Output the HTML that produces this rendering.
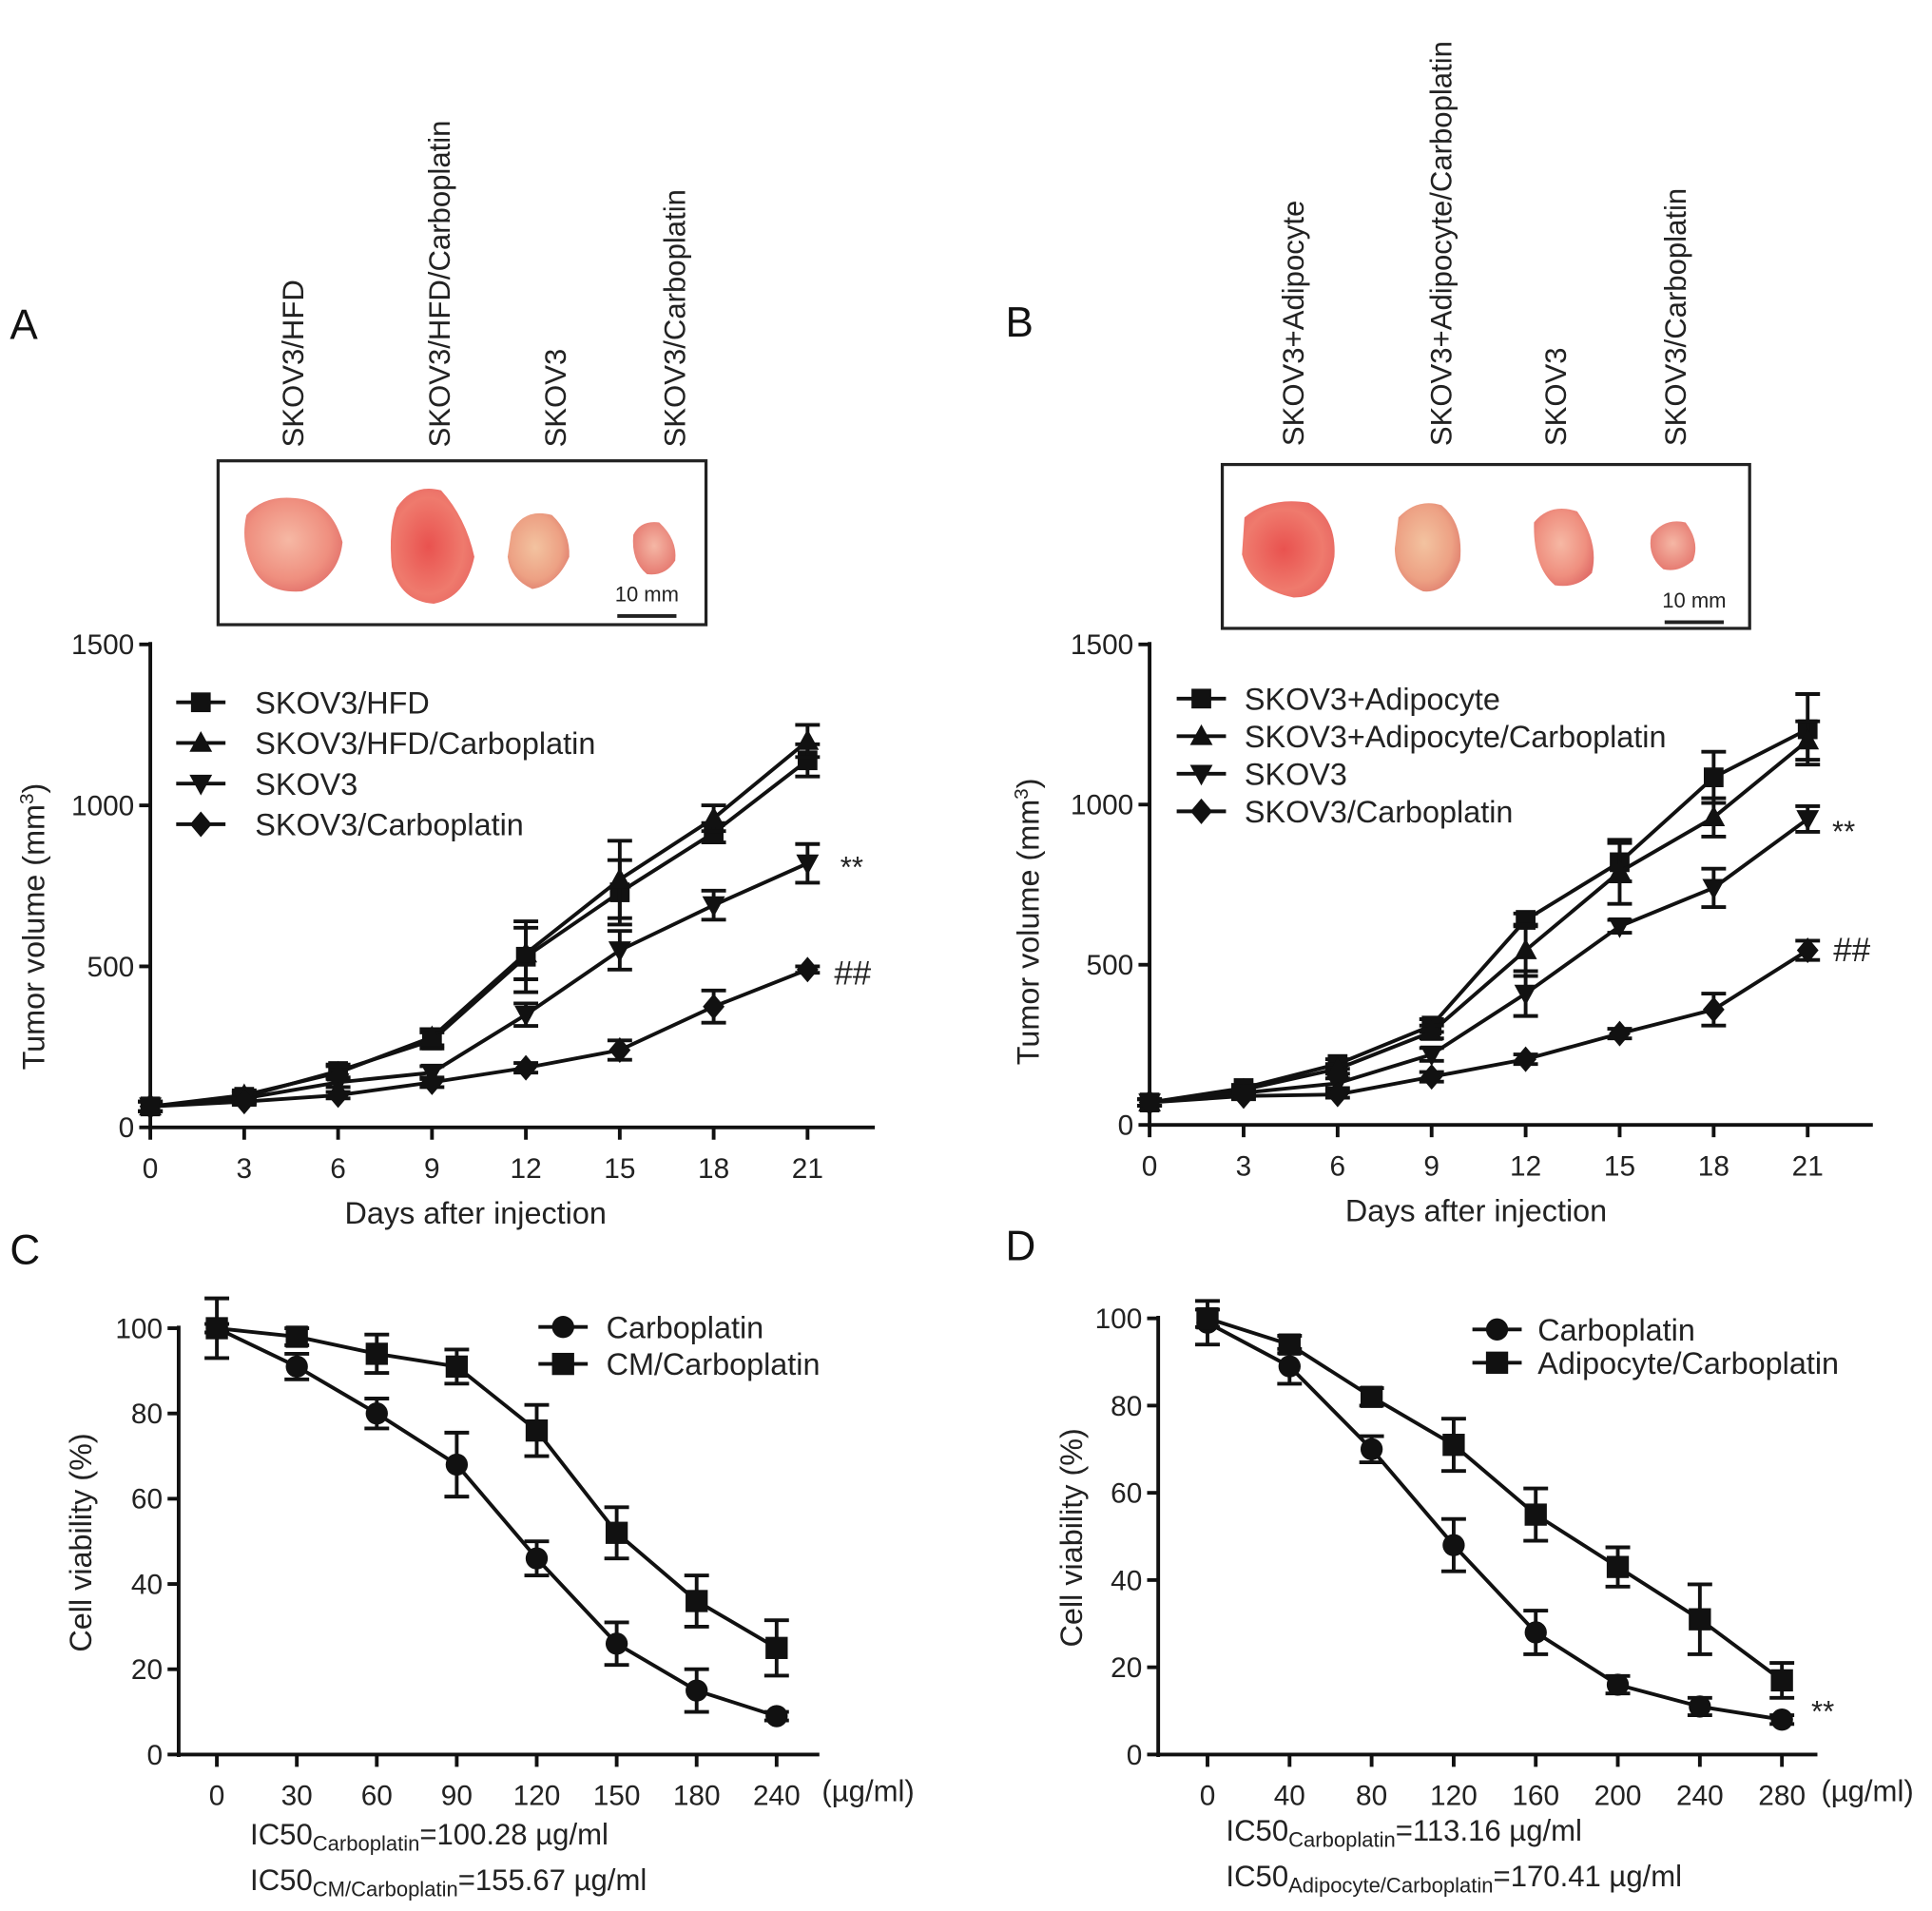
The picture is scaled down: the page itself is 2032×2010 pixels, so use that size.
<!DOCTYPE html>
<html><head><meta charset="utf-8"><style>
html,body{margin:0;padding:0;background:#fff;}
svg{display:block;font-family:"Liberation Sans",Arial,sans-serif;}
</style></head><body>
<svg id="fig" width="2032" height="2010" viewBox="0 0 1568 1551" xmlns="http://www.w3.org/2000/svg">
<defs>
<radialGradient id="tum1" cx="45%" cy="45%" r="60%"><stop offset="0" stop-color="#f6b8a4"/><stop offset="0.7" stop-color="#ef8f7f"/><stop offset="1" stop-color="#e2706a"/></radialGradient>
<radialGradient id="tum2" cx="45%" cy="50%" r="60%"><stop offset="0" stop-color="#e9524f"/><stop offset="0.7" stop-color="#ef7a6d"/><stop offset="1" stop-color="#e86862"/></radialGradient>
<radialGradient id="tum3" cx="45%" cy="45%" r="60%"><stop offset="0" stop-color="#f3c3a0"/><stop offset="0.7" stop-color="#eda184"/><stop offset="1" stop-color="#e0806f"/></radialGradient>
<radialGradient id="tum4" cx="50%" cy="45%" r="60%"><stop offset="0" stop-color="#f5b7a5"/><stop offset="1" stop-color="#e5776e"/></radialGradient>
</defs>
<g id="root"></g>
</svg>
<script>
// ---- Panel A data ----
const daysA = [0,3,6,9,12,15,18,21];
const aHFD = [65,95,175,270,530,730,915,1140];
const aHFDerr = [15,15,20,25,110,100,30,50];
const aHFDCarbo = [65,100,170,280,540,770,960,1200];
const aHFDCarboErr = [15,15,20,25,80,120,40,50];
const aSKOV3 = [65,90,140,170,350,550,690,820];
const aSKOV3err = [15,15,15,20,35,60,45,60];
const aSKOV3Carbo = [65,80,100,140,185,240,375,490];
const aSKOV3CarboErr = [15,10,10,15,15,30,50,10];
const yTicksA = [0,500,1000,1500];
// ---- Panel B data ----
const daysB = [0,3,6,9,12,15,18,21];
const bAdip = [70,115,190,310,640,820,1085,1235];
const bAdipErr = [10,10,15,20,20,60,80,110];
const bAdipCarbo = [70,110,175,290,545,790,960,1200];
const bAdipCarboErr = [10,10,15,20,80,100,60,60];
const bSKOV3 = [70,100,130,220,410,620,740,955];
const bSKOV3err = [10,10,15,20,70,20,60,40];
const bSKOV3Carbo = [70,90,95,150,205,285,360,545];
const bSKOV3CarboErr = [10,10,10,15,15,15,50,30];
// ---- Panel C data ----
const concC = ["0","30","60","90","120","150","180","240"];
const cCarbo = [100,91,80,68,46,26,15,9];
const cCarboErr = [7,3,3.5,7.5,4,5,5,1];
const cCM = [100,98,94,91,76,52,36,25];
const cCMErr = [1,2,4.5,4,6,6,6,6.5];
const yTicksC = [0,20,40,60,80,100];
// ---- Panel D data ----
const concD = ["0","40","80","120","160","200","240","280"];
const dCarbo = [99,89,70,48,28,16,11,8];
const dCarboErr = [5,4,3,6,5,2,2,1];
const dAdip = [100,94,82,71,55,43,31,17];
const dAdipErr = [2,2,2,6,6,4.5,8,4];

const NS='http://www.w3.org/2000/svg';
const root=document.getElementById('root');
function mk(tag,attrs,parent,text){const e=document.createElementNS(NS,tag);for(const k in attrs)e.setAttribute(k,attrs[k]);if(text!==undefined)e.textContent=text;(parent||root).appendChild(e);return e;}

function marker(g,type,x,y,s){
  let e;
  if(type==='square'){e=mk('rect',{x:x-s,y:y-s,width:2*s,height:2*s,fill:'#111'},g);}
  else if(type==='up'){e=mk('polygon',{points:`${x},${y-s*1.2} ${x-s*1.15},${y+s*0.9} ${x+s*1.15},${y+s*0.9}`,fill:'#111'},g);}
  else if(type==='down'){e=mk('polygon',{points:`${x},${y+s*1.2} ${x-s*1.15},${y-s*0.9} ${x+s*1.15},${y-s*0.9}`,fill:'#111'},g);}
  else if(type==='diamond'){e=mk('polygon',{points:`${x},${y-s*1.3} ${x+s*1.1},${y} ${x},${y+s*1.3} ${x-s*1.1},${y}`,fill:'#111'},g);}
  else {e=mk('circle',{cx:x,cy:y,r:s,fill:'#111'},g);}
  return e;
}

function panel(cfg){
  const g=mk('g',{});
  
  
  const sy=v=>cfg.y0-(v-cfg.ymin)/(cfg.ymax-cfg.ymin)*(cfg.y0-cfg.y1);
  const sx=i=>cfg.xs+i*cfg.dx;
  // axes
  const ya=mk('line',{x1:cfg.ax,y1:cfg.y1-2,x2:cfg.ax,y2:cfg.y0+2,stroke:'#111','stroke-width':3},g);
  
  const xa=mk('line',{x1:cfg.ax-1,y1:cfg.y0,x2:cfg.xend,y2:cfg.y0,stroke:'#111','stroke-width':3},g);
  
  cfg.yticks.forEach(t=>{
    const y=sy(t);
    mk('line',{x1:cfg.ax-9,y1:y,x2:cfg.ax,y2:y,stroke:'#111','stroke-width':3},g);
    const tl=mk('text',{x:cfg.ax-13,y:y+8,'text-anchor':'end','font-size':23,fill:'#222'},g,String(t));
    
  });
  cfg.xlabels.forEach((l,i)=>{
    const x=sx(i);
    mk('line',{x1:x,y1:cfg.y0,x2:x,y2:cfg.y0+10,stroke:'#111','stroke-width':3},g);
    const tl=mk('text',{x:x,y:cfg.y0+41,'text-anchor':'middle','font-size':23,fill:'#222'},g,l);
    
  });
  // series
  cfg.series.forEach(s=>{
    const sg=mk('g',{},g);
    
    
    const pts=s.vals.map((v,i)=>sx(i)+','+sy(v)).join(' ');
    mk('polyline',{points:pts,fill:'none',stroke:'#111','stroke-width':3},sg);
    s.vals.forEach((v,i)=>{
      const x=sx(i),e=s.err[i];
      const yt=sy(v+e),yb=sy(v-e);
      mk('line',{x1:x,y1:yt,x2:x,y2:yb,stroke:'#111','stroke-width':3},sg);
      mk('line',{x1:x-10,y1:yt,x2:x+10,y2:yt,stroke:'#111','stroke-width':3},sg);
      mk('line',{x1:x-10,y1:yb,x2:x+10,y2:yb,stroke:'#111','stroke-width':3},sg);
      const m=marker(sg,s.type,x,sy(v),cfg.ms);
      
      
    });
  });
  // legend
  cfg.series.forEach((s,i)=>{
    const ly=cfg.legY+i*cfg.legDy;
    const lg=mk('g',{},g);
    
    
    mk('line',{x1:cfg.legX-20,y1:ly,x2:cfg.legX+20,y2:ly,stroke:'#111','stroke-width':3},lg);
    marker(lg,s.type,cfg.legX,ly,cfg.ms);
    mk('text',{x:cfg.legTx,y:ly+9,'font-size':25,fill:'#222'},lg,s.label);
  });
  return {g,sx,sy};
}

// Panel A
const pA=panel({name:'chart-a',ax:122,y0:915,y1:523,ymin:0,ymax:1500,xs:122,dx:76.2,xend:710,
  yticks:yTicksA,xlabels:daysA.map(String),ms:8,legX:163,legTx:207,legY:570,legDy:33,
  series:[{key:'hfd',type:'square',vals:aHFD,err:aHFDerr,label:'SKOV3/HFD'},
          {key:'hfd-carbo',type:'up',vals:aHFDCarbo,err:aHFDCarboErr,label:'SKOV3/HFD/Carboplatin'},
          {key:'skov3',type:'down',vals:aSKOV3,err:aSKOV3err,label:'SKOV3'},
          {key:'skov3-carbo',type:'diamond',vals:aSKOV3Carbo,err:aSKOV3CarboErr,label:'SKOV3/Carboplatin'}]});
// Panel B
const pB=panel({name:'chart-b',ax:933,y0:913,y1:523,ymin:0,ymax:1500,xs:933,dx:76.3,xend:1520,
  yticks:yTicksA,xlabels:daysB.map(String),ms:8,legX:975,legTx:1010,legY:567,legDy:30.5,
  series:[{key:'adip',type:'square',vals:bAdip,err:bAdipErr,label:'SKOV3+Adipocyte'},
          {key:'adip-carbo',type:'up',vals:bAdipCarbo,err:bAdipCarboErr,label:'SKOV3+Adipocyte/Carboplatin'},
          {key:'skov3',type:'down',vals:bSKOV3,err:bSKOV3err,label:'SKOV3'},
          {key:'skov3-carbo',type:'diamond',vals:bSKOV3Carbo,err:bSKOV3CarboErr,label:'SKOV3/Carboplatin'}]});
// Panel C
const pC=panel({name:'chart-c',ax:145,y0:1424,y1:1078,ymin:0,ymax:100,xs:176,dx:64.9,xend:665,
  yticks:yTicksC,xlabels:concC,ms:9,legX:457,legTx:492,legY:1077,legDy:30,
  series:[{key:'carboplatin',type:'circle',vals:cCarbo,err:cCarboErr,label:'Carboplatin'},
          {key:'cm-carboplatin',type:'square',vals:cCM,err:cCMErr,label:'CM/Carboplatin'}]});
// Panel D
const pD=panel({name:'chart-d',ax:940,y0:1424,y1:1070,ymin:0,ymax:100,xs:980,dx:66.6,xend:1475,
  yticks:yTicksC,xlabels:concD,ms:9,legX:1215,legTx:1248,legY:1079,legDy:27,
  series:[{key:'carboplatin',type:'circle',vals:dCarbo,err:dCarboErr,label:'Carboplatin'},
          {key:'adipocyte-carboplatin',type:'square',vals:dAdip,err:dAdipErr,label:'Adipocyte/Carboplatin'}]});

function txt(attrs,t,name){const e=mk('text',attrs,root,t);return e;}
// axis titles
txt({x:386,y:993,'text-anchor':'middle','font-size':25,fill:'#222'},'Days after injection','x-axis-title-a');
txt({x:1198,y:991,'text-anchor':'middle','font-size':25,fill:'#222'},'Days after injection','x-axis-title-b');
const ytA=txt({x:0,y:0,'text-anchor':'middle','font-size':25,fill:'#222',transform:'translate(36,752) rotate(-90)'},'','y-axis-title-a');
ytA.innerHTML='Tumor volume (mm<tspan dy="-9" font-size="16">3</tspan><tspan dy="9">)</tspan>';
const ytB=txt({x:0,y:0,'text-anchor':'middle','font-size':25,fill:'#222',transform:'translate(843,748) rotate(-90)'},'','y-axis-title-b');
ytB.innerHTML='Tumor volume (mm<tspan dy="-9" font-size="16">3</tspan><tspan dy="9">)</tspan>';
txt({x:0,y:0,'text-anchor':'middle','font-size':25,fill:'#222',transform:'translate(74,1252) rotate(-90)'},'Cell viability (%)','y-axis-title-c');
txt({x:0,y:0,'text-anchor':'middle','font-size':25,fill:'#222',transform:'translate(878,1248) rotate(-90)'},'Cell viability (%)','y-axis-title-d');
txt({x:667,y:1462,'font-size':24,fill:'#222'},'(\u00b5g/ml)','x-unit-c');
txt({x:1478,y:1462,'font-size':24,fill:'#222'},'(\u00b5g/ml)','x-unit-d');
// IC50 labels
let e=txt({x:203,y:1497,'font-size':24,fill:'#222'},'','ic50-carboplatin-c');e.innerHTML='IC50<tspan font-size="17" dy="5">Carboplatin</tspan><tspan dy="-5">=100.28 \u00b5g/ml</tspan>';
e=txt({x:203,y:1534,'font-size':24,fill:'#222'},'','ic50-cm-carboplatin-c');e.innerHTML='IC50<tspan font-size="17" dy="5">CM/Carboplatin</tspan><tspan dy="-5">=155.67 \u00b5g/ml</tspan>';
e=txt({x:995,y:1494,'font-size':24,fill:'#222'},'','ic50-carboplatin-d');e.innerHTML='IC50<tspan font-size="17" dy="5">Carboplatin</tspan><tspan dy="-5">=113.16 \u00b5g/ml</tspan>';
e=txt({x:995,y:1531,'font-size':24,fill:'#222'},'','ic50-adipocyte-carboplatin-d');e.innerHTML='IC50<tspan font-size="17" dy="5">Adipocyte/Carboplatin</tspan><tspan dy="-5">=170.41 \u00b5g/ml</tspan>';
// significance marks
txt({x:682,y:712,'font-size':24,fill:'#222'},'**','significance-a-skov3');
txt({x:677,y:799,'font-size':27,fill:'#222'},'##','significance-a-carbo');
txt({x:1487,y:683,'font-size':24,fill:'#222'},'**','significance-b-skov3');
txt({x:1488,y:780,'font-size':27,fill:'#222'},'##','significance-b-carbo');
txt({x:1470,y:1397,'font-size':24,fill:'#222'},'**','significance-d');
// panel letters
txt({x:8,y:275,'font-size':34,fill:'#111'},'A','panel-label-a');
txt({x:816,y:273,'font-size':34,fill:'#111'},'B','panel-label-b');
txt({x:8,y:1026,'font-size':34,fill:'#111'},'C','panel-label-c');
txt({x:816,y:1023,'font-size':34,fill:'#111'},'D','panel-label-d');
// tumor photo panels
function photo(name,bx,by,bw,bh,labels,lx,lb,blobs,sbx,sby){
  const g=mk('g',{});
  
  
  mk('rect',{x:bx,y:by,width:bw,height:bh,fill:'#fff',stroke:'#222','stroke-width':2.5},g);
  blobs.forEach(b=>{const p=mk('path',{d:b[0],fill:b[1]},g);});
  mk('text',{x:sbx,y:sby,'font-size':17,fill:'#222','text-anchor':'middle'},g,'10 mm');
  mk('line',{x1:sbx-24,y1:sby+12,x2:sbx+24,y2:sby+12,stroke:'#222','stroke-width':3},g);
  labels.forEach((l,i)=>{
    const t=mk('text',{x:0,y:0,'font-size':24,fill:'#222',transform:`translate(${lx[i]+8},${lb}) rotate(-90)`},g,l);
    
  });
}
photo('tumor-photo-a',177,374,396,133,['SKOV3/HFD','SKOV3/HFD/Carboplatin','SKOV3','SKOV3/Carboplatin'],[238,357,451,548],363,
 [['M200,418 Q215,400 245,405 Q270,410 278,440 Q275,470 245,480 Q215,482 205,460 Q195,440 200,418Z','url(#tum1)'],
  ['M322,412 Q335,392 358,398 Q378,420 385,452 Q378,485 352,490 Q325,488 318,460 Q315,430 322,412Z','url(#tum2)'],
  ['M415,432 Q425,412 448,418 Q463,432 462,452 Q452,475 432,478 Q414,470 412,452Z','url(#tum3)'],
  ['M514,434 Q520,422 535,424 Q550,438 548,455 Q540,468 525,466 Q512,455 514,434Z','url(#tum4)']],525,488);
photo('tumor-photo-b',992,377,428,133,['SKOV3+Adipocyte','SKOV3+Adipocyte/Carboplatin','SKOV3','SKOV3/Carboplatin'],[1050,1170,1263,1360],362,
 [['M1010,420 Q1030,403 1062,408 Q1085,420 1083,452 Q1078,485 1050,485 Q1015,478 1008,450Z','url(#tum2)'],
  ['M1135,420 Q1150,404 1170,410 Q1188,425 1185,455 Q1175,482 1155,480 Q1132,470 1132,445Z','url(#tum3)'],
  ['M1245,424 Q1258,408 1280,415 Q1298,440 1292,465 Q1280,478 1262,475 Q1244,460 1245,424Z','url(#tum1)'],
  ['M1340,435 Q1350,420 1368,424 Q1380,440 1374,455 Q1362,465 1350,462 Q1337,452 1340,435Z','url(#tum4)']],1375,493);
</script>
</body></html>
